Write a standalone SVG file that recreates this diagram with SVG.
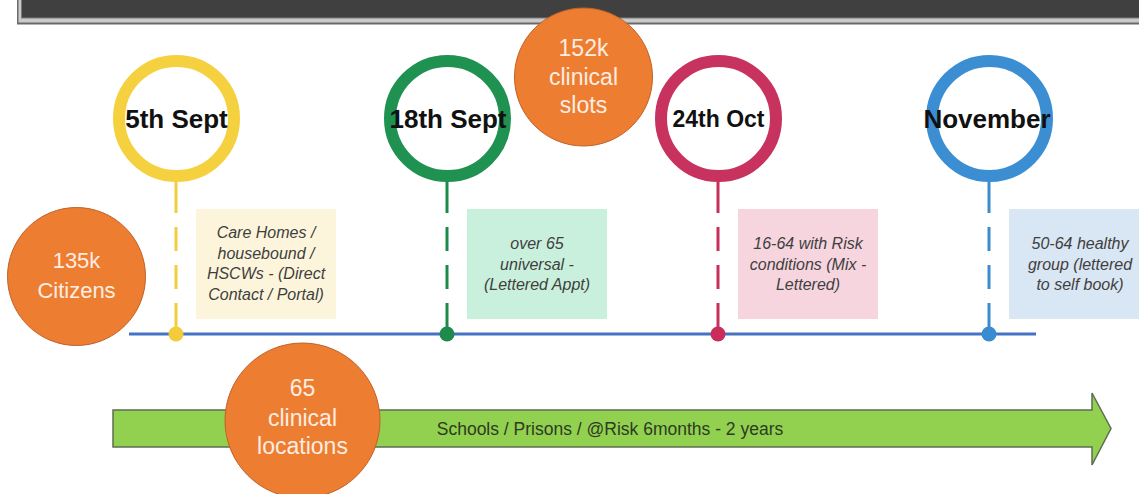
<svg xmlns="http://www.w3.org/2000/svg" width="1139" height="494" viewBox="0 0 1139 494">
  <style>
    .ring { fill: #ffffff; stroke-width: 12; }
    .date { font-family: "Liberation Sans", Arial, sans-serif; font-weight: bold; font-size: 26px; fill: #111111; text-anchor: middle; }
    .note { font-family: "Liberation Sans", Arial, sans-serif; font-style: italic; font-size: 16px; fill: #404040; text-anchor: middle; }
    .stat { fill: #ED7D31; stroke: #C0622A; stroke-width: 1; }
    .stat-text { font-family: "Liberation Sans", Arial, sans-serif; font-size: 23px; fill: #FDEDE2; text-anchor: middle; }
    .stem { stroke-width: 3; fill: none; stroke-dasharray: 33 14 24 14 24 14 200; }
    .band-text { font-family: "Liberation Sans", Arial, sans-serif; font-size: 17.5px; fill: #2E3B22; text-anchor: middle; }
  </style>

  <rect width="1139" height="494" fill="#ffffff"/>

  <!-- header bar with bevelled frame -->
  <g id="header">
    <rect x="17" y="-20" width="1140" height="44.5" fill="#6A6A6A"/>
    <rect x="18.5" y="-20" width="1140" height="42.5" fill="#CACACA"/>
    <rect x="21" y="-20" width="1140" height="38.5" fill="#7A7A7A"/>
    <rect x="22" y="-20" width="1140" height="37.5" fill="#404040"/>
  </g>

  <!-- timeline axis and stems -->
  <g id="connectors">
    <line x1="129" y1="334" x2="1036" y2="334" stroke="#4472C4" stroke-width="3"/>
    <line class="stem" x1="176" y1="180" x2="176" y2="334" stroke="#F5CD3C"/>
    <line class="stem" x1="447" y1="180" x2="447" y2="334" stroke="#1E8B4D"/>
    <line class="stem" x1="718" y1="180" x2="718" y2="334" stroke="#C8305C"/>
    <line class="stem" x1="989" y1="180" x2="989" y2="334" stroke="#3A8CD0"/>
  </g>

  <!-- milestone: 5th Sept -->
  <g id="milestone-sep5">
    <circle class="ring" cx="176.5" cy="118.5" r="57.5" stroke="#F6D13F"/>
    <text class="date" x="176.5" y="127.5">5th Sept</text>
    <circle cx="176" cy="334" r="7.5" fill="#F5CB3A"/>
    <rect x="196" y="209" width="140" height="110" fill="#FDF5DB"/>
    <text class="note" x="266" y="238">Care Homes /</text>
    <text class="note" x="266" y="258.5">housebound /</text>
    <text class="note" x="266" y="279">HSCWs - (Direct</text>
    <text class="note" x="266" y="299.5">Contact / Portal)</text>
  </g>

  <!-- milestone: 18th Sept -->
  <g id="milestone-sep18">
    <circle class="ring" cx="447.5" cy="118.5" r="57.5" stroke="#1F9150"/>
    <text class="date" x="448" y="127.5">18th Sept</text>
    <circle cx="447" cy="334" r="7.5" fill="#1E8A4C"/>
    <rect x="467" y="209" width="140" height="110" fill="#C9F0DC"/>
    <text class="note" x="537" y="249">over 65</text>
    <text class="note" x="537" y="269.5">universal -</text>
    <text class="note" x="537" y="290">(Lettered Appt)</text>
  </g>

  <!-- milestone: 24th Oct -->
  <g id="milestone-oct24">
    <circle class="ring" cx="718.5" cy="118.5" r="57.5" stroke="#C8325E"/>
    <text class="date" x="718.5" y="127" style="font-size:23px">24th Oct</text>
    <circle cx="718" cy="334" r="7.5" fill="#C92D5B"/>
    <rect x="738" y="209" width="140" height="110" fill="#F6D5DE"/>
    <text class="note" x="808" y="249">16-64 with Risk</text>
    <text class="note" x="808" y="269.5">conditions (Mix -</text>
    <text class="note" x="808" y="290">Lettered)</text>
  </g>

  <!-- milestone: November -->
  <g id="milestone-nov">
    <circle class="ring" cx="989.5" cy="118.5" r="57.5" stroke="#3B8ED2"/>
    <text class="date" x="987" y="127.5">November</text>
    <circle cx="989" cy="334" r="7.5" fill="#3A8CD0"/>
    <rect x="1009" y="209" width="140" height="110" fill="#D9E6F3"/>
    <text class="note" x="1080" y="249">50-64 healthy</text>
    <text class="note" x="1080" y="269.5">group (lettered</text>
    <text class="note" x="1080" y="290">to self book)</text>
  </g>

  <!-- ongoing cohort band -->
  <g id="ongoing-band">
    <path d="M113 410 H1092 V393 L1111 428.5 L1092 465 V447 H113 Z" fill="#92D050" stroke="#5E6E50" stroke-width="1.5" stroke-linejoin="miter"/>
    <text class="band-text" x="610" y="435">Schools / Prisons / @Risk 6months - 2 years</text>
  </g>

  <!-- headline figures -->
  <g id="stat-citizens">
    <circle class="stat" cx="76.5" cy="276.5" r="69"/>
    <text class="stat-text" x="76.5" y="268" style="font-size:22px">135k</text>
    <text class="stat-text" x="76.5" y="298" style="font-size:22px">Citizens</text>
  </g>

  <g id="stat-slots">
    <circle class="stat" cx="583.5" cy="77" r="69"/>
    <text class="stat-text" x="583.5" y="56">152k</text>
    <text class="stat-text" x="583.5" y="85">clinical</text>
    <text class="stat-text" x="583.5" y="113">slots</text>
  </g>

  <g id="stat-locations">
    <circle class="stat" cx="302.5" cy="420.5" r="77.5"/>
    <text class="stat-text" x="302.5" y="396">65</text>
    <text class="stat-text" x="302.5" y="426">clinical</text>
    <text class="stat-text" x="302.5" y="454">locations</text>
  </g>
</svg>
